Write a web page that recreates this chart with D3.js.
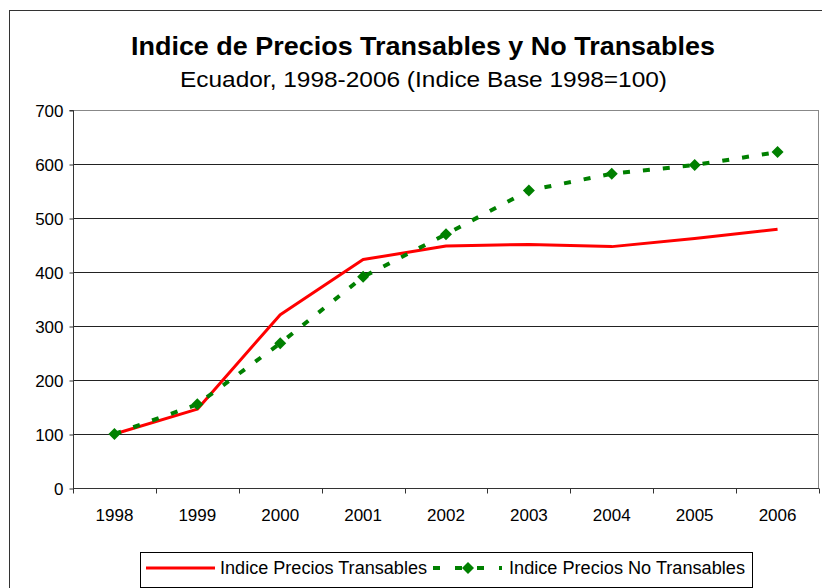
<!DOCTYPE html>
<html>
<head>
<meta charset="utf-8">
<script src="https://cdn.jsdelivr.net/npm/d3@7"></script>
<style>
  body { margin: 0; background: #fff; }
  svg { font-family: "Liberation Sans", Arial, sans-serif; }
</style>
</head>
<body>
<svg id="chart"></svg>
<script>
// data
const years = ["1998", "1999", "2000", "2001", "2002", "2003", "2004", "2005", "2006"];
const transables = [100, 146, 321, 423, 448, 451, 447, 462, 479];
const noTransables = [100, 155, 268, 391, 470, 551, 582, 598, 622];
const yTicks = [0, 100, 200, 300, 400, 500, 600, 700];

const width = 822;
const height = 588;
const margin = { top: 110, right: 3, bottom: 100, left: 73 };

const svg = d3.select("#chart")
  .attr("width", width)
  .attr("height", height);

// outer frame
svg.append("rect")
  .attr("x", 9.5).attr("y", 10.5)
  .attr("width", 830).attr("height", 600)
  .attr("fill", "none")
  .attr("stroke", "#333")
  .attr("stroke-width", 1);

// titles
svg.append("text")
  .attr("x", 423).attr("y", 55)
  .attr("text-anchor", "middle")
  .attr("textLength", 584)
  .attr("lengthAdjust", "spacingAndGlyphs")
  .style("font-size", "25.5px")
  .style("font-weight", "bold")
  .text("Indice de Precios Transables y No Transables");

svg.append("text")
  .attr("x", 423.5).attr("y", 87)
  .attr("text-anchor", "middle")
  .attr("textLength", 487)
  .attr("lengthAdjust", "spacingAndGlyphs")
  .style("font-size", "21.5px")
  .text("Ecuador, 1998-2006 (Indice Base 1998=100)");

// scales
const x = d3.scaleBand()
  .domain(years)
  .range([margin.left, width - margin.right]);

const y = d3.scaleLinear()
  .domain([0, 700])
  .range([height - margin.bottom, margin.top]);

const xMid = d => x(d) + x.bandwidth() / 2;

// plot area border
svg.append("rect")
  .attr("x", margin.left + 0.5).attr("y", y(700) + 0.5)
  .attr("width", x.range()[1] - margin.left - 1)
  .attr("height", y(0) - y(700))
  .attr("fill", "none")
  .attr("stroke", "#888");

// gridlines
svg.append("g")
  .selectAll("line")
  .data(yTicks.filter(t => t > 0))
  .join("line")
    .attr("x1", margin.left)
    .attr("x2", x.range()[1] - 1)
    .attr("y1", d => Math.round(y(d)) + 0.5)
    .attr("y2", d => Math.round(y(d)) + 0.5)
    .attr("stroke", d => d === 700 ? "#888" : "#222")
    .attr("stroke-width", 1);

// y axis
const yAxis = svg.append("g")
  .attr("transform", "translate(" + (margin.left + 0.5) + ",0.5)")
  .call(d3.axisLeft(y).tickValues(yTicks).tickSize(4).tickPadding(6));
yAxis.select(".domain").attr("stroke", "#333").attr("d", "M-4," + y(700) + "H0V" + y(0));
yAxis.selectAll(".tick line").attr("stroke", "#333");
yAxis.selectAll("text")
  .style("font-size", "17px")
  .style("font-family", "Liberation Sans, Arial, sans-serif")
  .attr("fill", "#000")
  .attr("dy", "0.35em");

// x axis, ticks on band edges
const xAxisG = svg.append("g")
  .attr("transform", "translate(0," + (y(0) + 0.5) + ")");
xAxisG.append("line")
  .attr("x1", margin.left).attr("x2", x.range()[1])
  .attr("stroke", "#333");
xAxisG.selectAll(".edge")
  .data(years.concat(["end"]))
  .join("line")
    .attr("class", "edge")
    .attr("x1", (d, i) => Math.round(i < years.length ? x(d) : x.range()[1]) + 0.5)
    .attr("x2", (d, i) => Math.round(i < years.length ? x(d) : x.range()[1]) + 0.5)
    .attr("y1", 0).attr("y2", 5)
    .attr("stroke", "#333");
xAxisG.selectAll(".lab")
  .data(years)
  .join("text")
    .attr("class", "lab")
    .attr("x", d => xMid(d))
    .attr("y", 32)
    .attr("text-anchor", "middle")
    .style("font-size", "17px")
    .text(d => d);

// lines
const line = d3.line()
  .x((d, i) => xMid(years[i]))
  .y(d => y(d));

svg.append("path")
  .datum(transables)
  .attr("d", line)
  .attr("fill", "none")
  .attr("stroke", "#ff0000")
  .attr("stroke-width", 3)
  .attr("stroke-linejoin", "round");

svg.append("path")
  .datum(noTransables)
  .attr("d", line)
  .attr("fill", "none")
  .attr("stroke", "#008000")
  .attr("stroke-width", 4)
  .attr("stroke-dasharray", "7,13");

const diamond = r => "M0," + (-r) + "L" + r + ",0L0," + r + "L" + (-r) + ",0Z";

svg.append("g")
  .selectAll("path")
  .data(noTransables)
  .join("path")
    .attr("transform", (d, i) => "translate(" + xMid(years[i]) + "," + y(d) + ")")
    .attr("d", diamond(6))
    .attr("fill", "#008000");

// legend
const legend = svg.append("g");
legend.append("rect")
  .attr("x", 140.5).attr("y", 552.5)
  .attr("width", 612).attr("height", 35)
  .attr("fill", "#fff")
  .attr("stroke", "#000");

legend.append("line")
  .attr("x1", 146).attr("x2", 215)
  .attr("y1", 568).attr("y2", 568)
  .attr("stroke", "#ff0000").attr("stroke-width", 3);
legend.append("text")
  .attr("x", 220).attr("y", 574)
  .attr("textLength", 207)
  .attr("lengthAdjust", "spacingAndGlyphs")
  .style("font-size", "17.5px")
  .text("Indice Precios Transables");

legend.append("line")
  .attr("x1", 433).attr("x2", 502)
  .attr("y1", 568).attr("y2", 568)
  .attr("stroke", "#008000").attr("stroke-width", 4)
  .attr("stroke-dasharray", "7,15");
legend.append("path")
  .attr("transform", "translate(468,568)")
  .attr("d", diamond(6))
  .attr("fill", "#008000");
legend.append("text")
  .attr("x", 509).attr("y", 574)
  .attr("textLength", 236)
  .attr("lengthAdjust", "spacingAndGlyphs")
  .style("font-size", "17.5px")
  .text("Indice Precios No Transables");
</script>
</body>
</html>
